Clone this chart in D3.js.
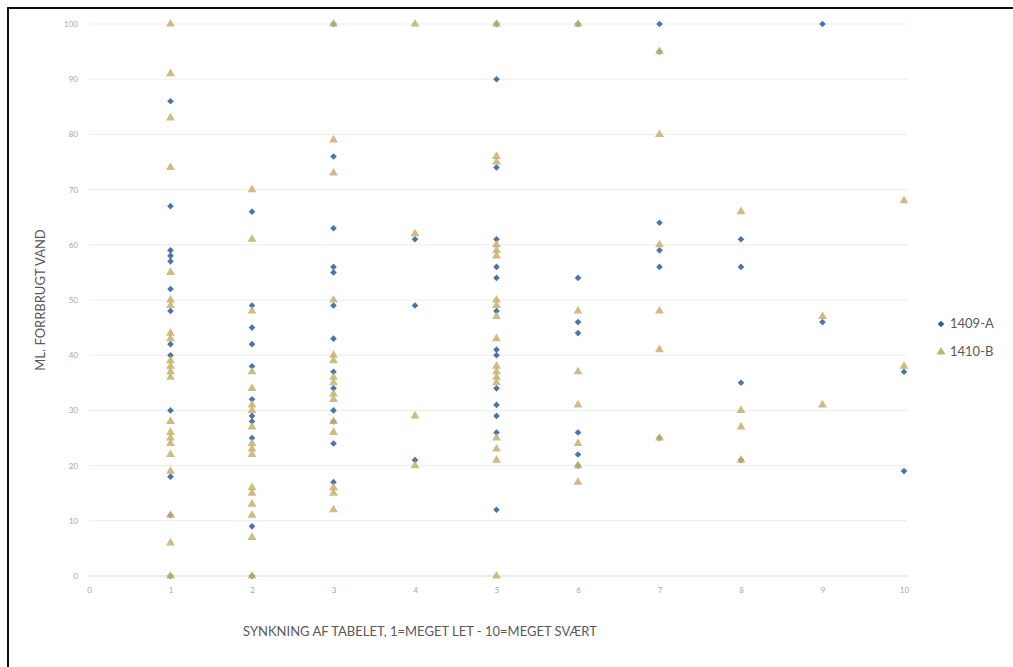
<!DOCTYPE html>
<html>
<head>
<meta charset="utf-8">
<script src="https://cdn.jsdelivr.net/npm/d3@7"></script>
<style>
  body { margin: 0; background: #fff; }
  text { font-family: Lato, "Open Sans", sans-serif; }
</style>
</head>
<body>
<svg id="main_svg_container" width="1013" height="667"></svg>
<script>
// 1409-A, values per x position (x = 1..10)
const x_A = [1,1,1,1,1,1,1,1,1,1,1,1,1,
  2,2,2,2,2,2,2,2,2,2,2,
  3,3,3,3,3,3,3,3,3,3,3,3,3,
  4,4,4,
  5,5,5,5,5,5,5,5,5,5,5,5,5,5,
  6,6,6,6,6,6,6,
  7,7,7,7,7,7,
  8,8,8,8,
  9,9,
  10,10];
const y_A = [86,67,59,58,57,52,48,42,40,30,18,11,0,
  66,49,45,42,38,32,29,28,25,9,0,
  100,76,63,56,55,49,43,37,34,30,28,24,17,
  61,49,21,
  100,90,74,61,56,54,48,41,40,34,31,29,26,12,
  100,54,46,44,26,22,20,
  100,95,64,59,56,25,
  61,56,35,21,
  100,46,
  37,19];

// 1410-B
const x_B = [1,1,1,1,1,1,1,1,1,1,1,1,1,1,1,1,1,1,1,1,1,1,
  2,2,2,2,2,2,2,2,2,2,2,2,2,2,2,2,2,
  3,3,3,3,3,3,3,3,3,3,3,3,3,3,3,
  4,4,4,4,
  5,5,5,5,5,5,5,5,5,5,5,5,5,5,5,5,5,5,
  6,6,6,6,6,6,6,
  7,7,7,7,7,7,
  8,8,8,8,
  9,9,
  10,10];
const y_B = [100,91,83,74,55,50,49,44,43,39,38,37,36,28,26,25,24,22,19,11,6,0,
  70,61,48,37,34,31,30,27,24,23,22,16,15,13,11,7,0,
  100,79,73,50,40,39,36,35,33,32,28,26,16,15,12,
  100,62,29,20,
  100,76,75,60,59,58,50,49,47,43,38,37,36,35,25,23,21,0,
  100,48,37,31,24,20,17,
  95,80,60,48,41,25,
  66,30,27,21,
  47,31,
  68,38];

const x_ticks = [0,1,2,3,4,5,6,7,8,9,10];
const y_ticks = [0,10,20,30,40,50,60,70,80,90,100];
const series_names = ["1409-A", "1410-B"];
const series_colors = ["#2b5d9b", "#c6b06c"];

const svg = d3.select("#main_svg_container");

// frame
svg.append("rect")
    .attr("x", 8).attr("y", 8)
    .attr("width", 1020).attr("height", 670)
    .attr("fill", "none")
    .attr("stroke", "#111")
    .attr("stroke-width", 2);

const x = d3.scaleLinear().domain([0, 10]).range([89, 904]);
const y = d3.scaleLinear().domain([0, 100]).range([576, 24]);

// gridlines
svg.append("g")
    .selectAll("line")
    .data(y_ticks)
    .join("line")
    .attr("x1", x(0)).attr("x2", x(10) + 3)
    .attr("y1", d => y(d)).attr("y2", d => y(d))
    .attr("stroke", d => d === 0 ? "#d9d9d9" : "#ececec")
    .attr("stroke-width", 1);

// y axis labels
const yAxis = svg.append("g")
    .attr("transform", "translate(" + x(0) + ",0)")
    .call(d3.axisLeft(y).tickValues(y_ticks).tickSize(0).tickPadding(11));
yAxis.select(".domain").remove();
yAxis.selectAll("text").attr("fill", "#a6a6a6").style("font-size", "8px");

// x axis labels
const xAxis = svg.append("g")
    .attr("transform", "translate(0," + y(0) + ")")
    .call(d3.axisBottom(x).tickValues(x_ticks).tickSize(0).tickPadding(11));
xAxis.select(".domain").remove();
xAxis.selectAll("text").attr("fill", "#a6a6a6").style("font-size", "8px");

// axis titles
svg.append("text")
    .attr("x", 420).attr("y", 636)
    .attr("text-anchor", "middle")
    .attr("fill", "#595959")
    .style("font-size", "13px")
    .text("SYNKNING AF TABELET, 1=MEGET LET - 10=MEGET SVÆRT");

svg.append("text")
    .attr("transform", "translate(45,300) rotate(-90)")
    .attr("text-anchor", "middle")
    .attr("fill", "#595959")
    .style("font-size", "13px")
    .text("ML. FORRBRUGT VAND");

// points
const diamond = d3.symbol().type(d3.symbolDiamond2).size(28);
const triangle = d3.symbol().type(d3.symbolTriangle).size(34);

svg.append("g")
    .selectAll("path")
    .data(d3.range(x_A.length))
    .join("path")
    .attr("transform", i => "translate(" + x(x_A[i]) + "," + y(y_A[i]) + ")")
    .attr("d", diamond)
    .attr("fill", series_colors[0])
    .attr("fill-opacity", 0.85);

svg.append("g")
    .selectAll("path")
    .data(d3.range(x_B.length))
    .join("path")
    .attr("transform", i => "translate(" + x(x_B[i]) + "," + y(y_B[i]) + ")")
    .attr("d", triangle)
    .attr("fill", series_colors[1])
    .attr("fill-opacity", 0.85);

// legend
const legend = svg.append("g").attr("transform", "translate(941,324)");
legend.append("path")
    .attr("d", diamond)
    .attr("fill", series_colors[0]);
legend.append("path")
    .attr("transform", "translate(0,28)")
    .attr("d", triangle)
    .attr("fill", series_colors[1]);
legend.selectAll("text")
    .data(series_names)
    .join("text")
    .attr("x", 9)
    .attr("y", (d, i) => i * 28 + 4)
    .attr("fill", "#595959")
    .style("font-size", "13px")
    .text(d => d);
</script>
</body>
</html>
